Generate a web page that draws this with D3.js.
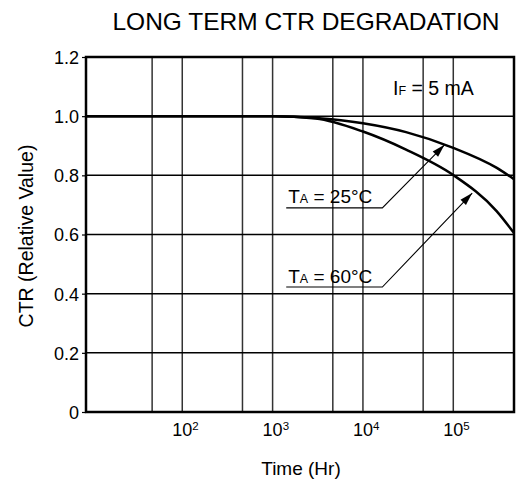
<!DOCTYPE html>
<html>
<head>
<meta charset="utf-8">
<script src="https://cdn.jsdelivr.net/npm/d3@7"></script>
<style>
  html, body { margin: 0; padding: 0; background: #fff; }
  svg { display: block; }
  text { font-family: "Liberation Sans", Arial, Helvetica, sans-serif; fill: #000; }
</style>
</head>
<body>
<svg id="chart" width="516" height="483"></svg>
<script>
// ---- data ----
const times  = [8.6, 100, 1000, 3000, 10000, 30000, 100000, 300000, 470000];
const ctr25  = [1.0, 1.0, 1.0, 0.994, 0.976, 0.946, 0.893, 0.826, 0.787];
const ctr60  = [1.0, 1.0, 1.0, 0.992, 0.948, 0.887, 0.801, 0.68, 0.605];
const yTicks = [0, 0.2, 0.4, 0.6, 0.8, 1.0, 1.2];
const yTickLabels = ["0", "0.2", "0.4", "0.6", "0.8", "1.0", "1.2"];
const xDecades = [100, 1000, 10000, 100000];
const xDecadeExp = ["2", "3", "4", "5"];
const xMinorGrid = [46.4, 464, 4640, 46400];
const labels = [
  { main: "T", sub: "A", rest: " = 25°C", t0: 1415, t1: 16400, v: 0.69, tipT: 80000, tipV: 0.903 },
  { main: "T", sub: "A", rest: " = 60°C", t0: 1415, t1: 16400, v: 0.4225, tipT: 162000, tipV: 0.74 }
];

// ---- layout ----
const svg = d3.select("#chart");
const m = { left: 86, top: 57, right: 514, bottom: 412 };
const x = d3.scaleLog().domain([8.6, 470000]).range([m.left, m.right]);
const y = d3.scaleLinear().domain([0, 1.2]).range([m.bottom, m.top]);

// title
svg.append("text").attr("x", 306).attr("y", 30).attr("text-anchor", "middle")
  .style("font-size", "24.5px").text("LONG TERM CTR DEGRADATION");

// vertical grid
const vg = [...xMinorGrid, ...xDecades];
svg.append("g").selectAll("line").data(vg).join("line")
  .attr("x1", d => x(d)).attr("x2", d => x(d))
  .attr("y1", m.top).attr("y2", m.bottom)
  .attr("stroke", "#333").attr("stroke-width", 1.5);

// horizontal grid
svg.append("g").selectAll("line").data(yTicks).join("line")
  .attr("x1", m.left).attr("x2", m.right)
  .attr("y1", d => y(d)).attr("y2", d => y(d))
  .attr("stroke", "#000").attr("stroke-width", 1.5);

// y axis
const yAxis = d3.axisLeft(y).tickValues(yTicks).tickSize(4).tickPadding(3)
  .tickFormat((d, i) => yTickLabels[i]);
const gy = svg.append("g").attr("transform", `translate(${m.left},0)`).call(yAxis);
gy.select(".domain").remove();
gy.selectAll("line").attr("stroke", "#000").attr("stroke-width", 1.2);
gy.selectAll("text").style("font-size", "18px").attr("fill", "#000")
  .attr("dy", "0.36em");

// x tick labels (10^n)
const xl = svg.append("g").selectAll("text").data(xDecades).join("text")
  .attr("x", d => x(d) - 10).attr("y", 436).style("font-size", "18px");
xl.append("tspan").text("10");
xl.append("tspan").attr("dy", -6).style("font-size", "11.5px").text((d, i) => xDecadeExp[i]);

// frame
svg.append("rect").attr("x", m.left).attr("y", m.top)
  .attr("width", m.right - m.left).attr("height", m.bottom - m.top)
  .attr("fill", "none").attr("stroke", "#000").attr("stroke-width", 2.5);

// curves
const line = d3.line().x(d => x(d[0])).y(d => y(d[1])).curve(d3.curveMonotoneX);
svg.append("clipPath").attr("id", "pc").append("rect")
  .attr("x", m.left).attr("y", m.top).attr("width", m.right - m.left).attr("height", m.bottom - m.top);
[ctr25, ctr60].forEach(s => {
  svg.append("path").datum(times.map((t, i) => [t, s[i]]))
    .attr("d", line).attr("fill", "none").attr("stroke", "#000")
    .attr("stroke-width", 2.5).attr("clip-path", "url(#pc)");
});

// annotations
labels.forEach(a => {
  const x0 = x(a.t0), x1 = x(a.t1), yy = y(a.v);
  const tx = x(a.tipT), ty = y(a.tipV);
  const t = svg.append("text").attr("x", x0 + 2).attr("y", yy - 4.5).style("font-size", "19px");
  t.append("tspan").text(a.main);
  t.append("tspan").style("font-size", "12.5px").text(a.sub);
  t.append("tspan").text(a.rest);
  svg.append("polyline").attr("points", `${x0},${yy} ${x1},${yy} ${tx},${ty}`)
    .attr("fill", "none").attr("stroke", "#000").attr("stroke-width", 1.1);
  const ang = Math.atan2(ty - yy, tx - x1);
  const L = 13, W = 3.8;
  const bx = tx - L * Math.cos(ang), by = ty - L * Math.sin(ang);
  const px = -Math.sin(ang) * W, py = Math.cos(ang) * W;
  svg.append("polygon").attr("points",
    `${tx},${ty} ${bx + px},${by + py} ${bx - px},${by - py}`).attr("fill", "#000");
});

// IF label
const ifl = svg.append("text").attr("x", 393).attr("y", 95).style("font-size", "19.5px");
ifl.append("tspan").text("I");
ifl.append("tspan").style("font-size", "12.5px").text("F");
ifl.append("tspan").text(" = 5 mA");

// axis titles
svg.append("text").attr("x", 301).attr("y", 475).attr("text-anchor", "middle")
  .style("font-size", "19px").text("Time (Hr)");
svg.append("text").attr("transform", "translate(33,236) rotate(-90)")
  .attr("text-anchor", "middle").style("font-size", "19.5px").text("CTR (Relative Value)");
</script>
</body>
</html>
